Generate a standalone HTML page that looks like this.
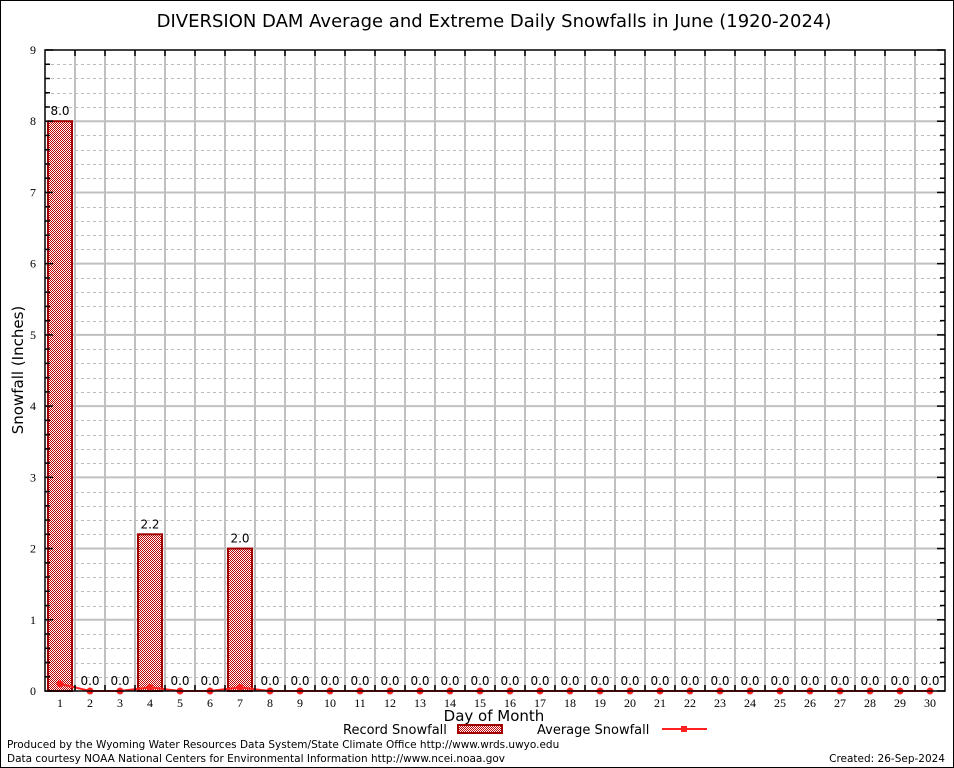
<!DOCTYPE html>
<html><head><meta charset="utf-8"><style>
body{margin:0;background:#fff}
svg{display:block;font-family:"DejaVu Sans","Liberation Sans",sans-serif}
</style></head><body>
<svg id="chart" width="954" height="768" xmlns="http://www.w3.org/2000/svg">
<defs>
<pattern id="chk" width="2" height="2" patternUnits="userSpaceOnUse">
<rect width="2" height="2" fill="#fff"/><rect width="1" height="1" fill="#c00000"/><rect x="1" y="1" width="1" height="1" fill="#c00000"/>
</pattern>
</defs>
<rect x="0.5" y="0.5" width="953" height="767" fill="#fff" stroke="#000"/>
<text x="494" y="27" font-size="18" text-anchor="middle">DIVERSION DAM Average and Extreme Daily Snowfalls in June (1920-2024)</text>
<g id="grid"></g>
<g id="bars"></g>
<g id="avg"></g>
<g id="axes"></g>
<text x="494" y="721" font-size="15" text-anchor="middle">Day of Month</text>
<text transform="translate(23,370) rotate(-90)" font-size="15" text-anchor="middle">Snowfall (Inches)</text>
<g>
<text x="343" y="734" font-size="13">Record Snowfall</text>
<rect x="458" y="725" width="44" height="8" fill="url(#chk)" stroke="#a00000" stroke-width="2"/>
<text x="537" y="734" font-size="13">Average Snowfall</text>
<line x1="662" y1="729" x2="707" y2="729" stroke="#ff2020" stroke-width="2"/>
<rect x="681" y="726" width="6" height="6" fill="#ff2020"/>
</g>
<text x="7" y="748" font-size="10.5">Produced by the Wyoming Water Resources Data System/State Climate Office http://www.wrds.uwyo.edu</text>
<text x="7" y="762" font-size="10.5">Data courtesy NOAA National Centers for Environmental Information http://www.ncei.noaa.gov</text>
<text x="945" y="762" font-size="10.5" text-anchor="end">Created: 26-Sep-2024</text>
</svg>
<script>
const days=[1,2,3,4,5,6,7,8,9,10,11,12,13,14,15,16,17,18,19,20,21,22,23,24,25,26,27,28,29,30];
const recordSnow=[8.0,0,0,2.2,0,0,2.0,0,0,0,0,0,0,0,0,0,0,0,0,0,0,0,0,0,0,0,0,0,0,0];
const avgSnow=[0.1,0,0,0.05,0,0,0.05,0,0,0,0,0,0,0,0,0,0,0,0,0,0,0,0,0,0,0,0,0,0,0];
const yTicks=[0,1,2,3,4,5,6,7,8,9];
const NS="http://www.w3.org/2000/svg";
const L=45,R=945,T=50,B=691,YMAX=9;
const dw=(R-L)/days.length;
const xc=d=>L+dw*(d-0.5);
const y=v=>B-v*(B-T)/YMAX;
function mk(tag,attrs,parent){const e=document.createElementNS(NS,tag);for(const k in attrs)e.setAttribute(k,attrs[k]);parent.appendChild(e);return e;}
const grid=document.getElementById('grid'),bars=document.getElementById('bars'),avg=document.getElementById('avg'),axes=document.getElementById('axes');
for(let i=1;i<YMAX*5;i++){if(i%5===0)continue;const yy=Math.round(y(i/5))+0.5;
const l=mk('line',{x1:L,x2:R,y1:yy,y2:yy,stroke:'#bbb','stroke-width':1,'stroke-dasharray':'3,3'},grid);

}
yTicks.forEach(t=>{if(t===0||t===YMAX)return;const yy=y(t);
const l=mk('line',{x1:L,x2:R,y1:yy,y2:yy,stroke:'#c0c0c0','stroke-width':2},grid);

});
for(let k=1;k<days.length;k++){const xx=L+dw*k;
const l=mk('line',{x1:xx,x2:xx,y1:T,y2:B,stroke:'#c0c0c0','stroke-width':2},grid);

}
days.forEach((d,i)=>{const v=recordSnow[i];
if(v>0){const r=mk('rect',{x:xc(d)-12,y:y(v),width:24,height:B-y(v),fill:'url(#chk)',stroke:'#a00000','stroke-width':2},bars);

}
const t=mk('text',{x:xc(d),y:y(v)-6,'font-size':12,'text-anchor':'middle'},bars);t.textContent=v.toFixed(1);

});
const pts=days.map((d,i)=>xc(d)+','+y(avgSnow[i])).join(' ');
const pl=mk('polyline',{points:pts,fill:'none',stroke:'#ff2020','stroke-width':2},avg);


days.forEach((d,i)=>{const m=mk('circle',{cx:xc(d),cy:y(avgSnow[i]),r:3.5,fill:'#ff2020'},avg);

});
const f=mk('rect',{x:L,y:T,width:R-L,height:B-T,fill:'none',stroke:'#000','stroke-width':1.5},axes);


for(let i=0;i<=YMAX*5;i++){const yy=y(i/5),len=i%5===0?8:5;
mk('line',{x1:L,x2:L+len,y1:yy,y2:yy,stroke:'#000','stroke-width':1.5},axes);
mk('line',{x1:R,x2:R-len,y1:yy,y2:yy,stroke:'#000','stroke-width':1.5},axes);}
yTicks.forEach(t=>{const tx=mk('text',{x:L-9,y:y(t)+4,'font-size':12,'text-anchor':'end','font-family':'Liberation Serif,serif'},axes);tx.textContent=t;

});
for(let k=1;k<days.length;k++){const xx=L+dw*k;
mk('line',{x1:xx,x2:xx,y1:T,y2:T+6,stroke:'#000','stroke-width':1.5},axes);
mk('line',{x1:xx,x2:xx,y1:B,y2:B-6,stroke:'#000','stroke-width':1.5},axes);}
days.forEach(d=>{const tx=mk('text',{x:xc(d),y:B+16,'font-size':12,'text-anchor':'middle','font-family':'Liberation Serif,serif'},axes);tx.textContent=d;

});
</script>
</body></html>
